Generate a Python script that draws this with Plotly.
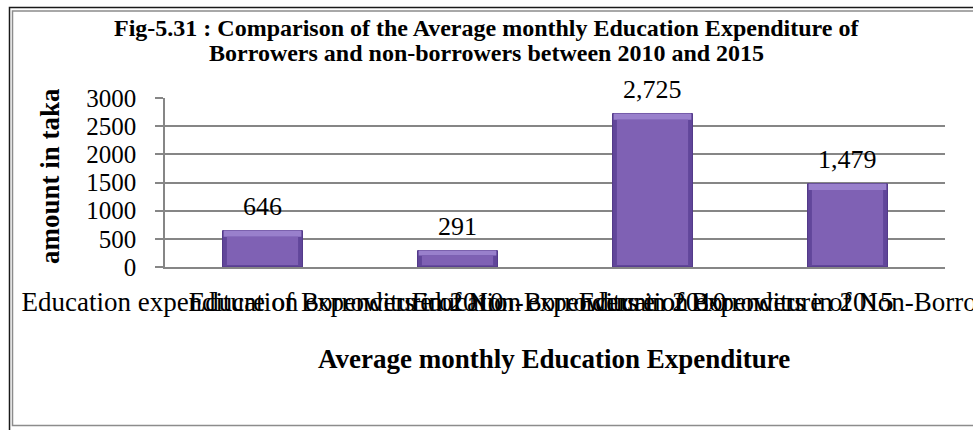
import plotly.graph_objects as go

# Average monthly education expenditure (taka)
categories = [
    "Education expenditure of Borrowers in 2010",
    "Education expenditure of Non-Borrowers in 2010",
    "Education expenditure of Borrowers in 2015",
    "Education expenditure of Non-Borrowers in 2015",
]
values = [646, 291, 2725, 1479]
y_ticks = [0, 500, 1000, 1500, 2000, 2500, 3000]

title_lines = [
    "Fig-5.31 : Comparison of the Average monthly Education Expenditure of",
    "Borrowers and non-borrowers between 2010 and 2015",
]
x_title = "Average monthly Education Expenditure"
y_title = "amount in taka"

SERIF = "Liberation Serif, Times New Roman, serif"
W, H = 973, 430
PL, PR, PT, PB = 165, 945, 98, 267
BAR_W = 0.41


def px(x):
    return (x - PL) / (PR - PL)


def py(y):
    return (PB - y) / (PB - PT)


# bevel depth of the bar faces, in axis units (capped for short bars)
bevel_top = [min(110, 0.3 * v) for v in values]
bevel_bot = [min(35, 0.1 * v) for v in values]

fig = go.Figure()
# full bar (dark rim)
fig.add_trace(go.Bar(
    x=categories, y=values, width=BAR_W,
    marker=dict(color="#61469A", line=dict(color="#523888", width=1)),
    hoverinfo="x+y", name="",
))
# bevel highlight along the top
fig.add_trace(go.Bar(
    x=categories, y=bevel_top, base=[v - t for v, t in zip(values, bevel_top)],
    width=BAR_W - 0.012,
    marker=dict(color="#9980CC", line=dict(width=0)),
    hoverinfo="skip", name="",
))
# bar face
fig.add_trace(go.Bar(
    x=categories,
    y=[v - t - b for v, t, b in zip(values, bevel_top, bevel_bot)],
    base=bevel_bot,
    width=BAR_W - 0.045,
    marker=dict(color="#7F61B4", line=dict(width=0)),
    hoverinfo="skip", name="",
))

annotations = []
for c, v in zip(categories, values):
    annotations.append(dict(
        x=c, y=v, xref="x", yref="y", text=f"{v:,}", showarrow=False,
        yanchor="middle", yshift=24,
        font=dict(family=SERIF, size=26, color="#000000"),
    ))

for i, line in enumerate(title_lines):
    annotations.append(dict(
        x=px(486), y=py(28 + 25 * i), xref="paper", yref="paper",
        text=f"<b>{line}</b>", showarrow=False, xanchor="center", yanchor="middle",
        font=dict(family=SERIF, size=24, color="#000000"),
    ))

annotations.append(dict(
    x=px(554), y=py(359), xref="paper", yref="paper", text=f"<b>{x_title}</b>",
    showarrow=False, xanchor="center", yanchor="middle",
    font=dict(family=SERIF, size=27, color="#000000"),
))
annotations.append(dict(
    x=px(50), y=py(176), xref="paper", yref="paper", text=f"<b>{y_title}</b>",
    showarrow=False, xanchor="center", yanchor="middle", textangle=-90,
    font=dict(family=SERIF, size=27, color="#000000"),
))

shapes = [
    # outer dark frame
    dict(type="rect", xref="paper", yref="paper",
         x0=px(9.5), x1=px(1100), y0=py(7.5), y1=py(600),
         line=dict(color="#1A1A1A", width=1.5), fillcolor="rgba(0,0,0,0)", layer="below"),
    # inner grey frame
    dict(type="rect", xref="paper", yref="paper",
         x0=px(12.5), x1=px(1100), y0=py(11), y1=py(425.5),
         line=dict(color="#8C8C8C", width=1.5), fillcolor="rgba(0,0,0,0)", layer="below"),
]

fig.update_layout(
    width=W, height=H,
    margin=dict(l=PL, r=W - PR, t=PT, b=H - PB, pad=0),
    paper_bgcolor="#FFFFFF", plot_bgcolor="#FFFFFF",
    showlegend=False,
    barmode="overlay",
    annotations=annotations,
    shapes=shapes,
    font=dict(family=SERIF, color="#000000"),
)

fig.update_xaxes(
    type="category",
    tickangle=0,
    showgrid=False,
    showline=True, linecolor="#868686", linewidth=1.5,
    ticks="", ticklabelstandoff=10,
    tickfont=dict(family=SERIF, size=27, color="#000000"),
    automargin=False,
)
fig.update_yaxes(
    range=[0, 3000],
    tickvals=y_ticks,
    ticktext=[str(t) for t in y_ticks],
    showgrid=True, gridcolor="#868686", gridwidth=1.5,
    showline=True, linecolor="#868686", linewidth=1.5,
    ticks="outside", ticklen=8, tickcolor="#868686", tickwidth=1.5,
    ticklabelstandoff=14,
    zeroline=False,
    tickfont=dict(family=SERIF, size=25, color="#000000"),
    automargin=False,
)

fig.write_html("out.html")
